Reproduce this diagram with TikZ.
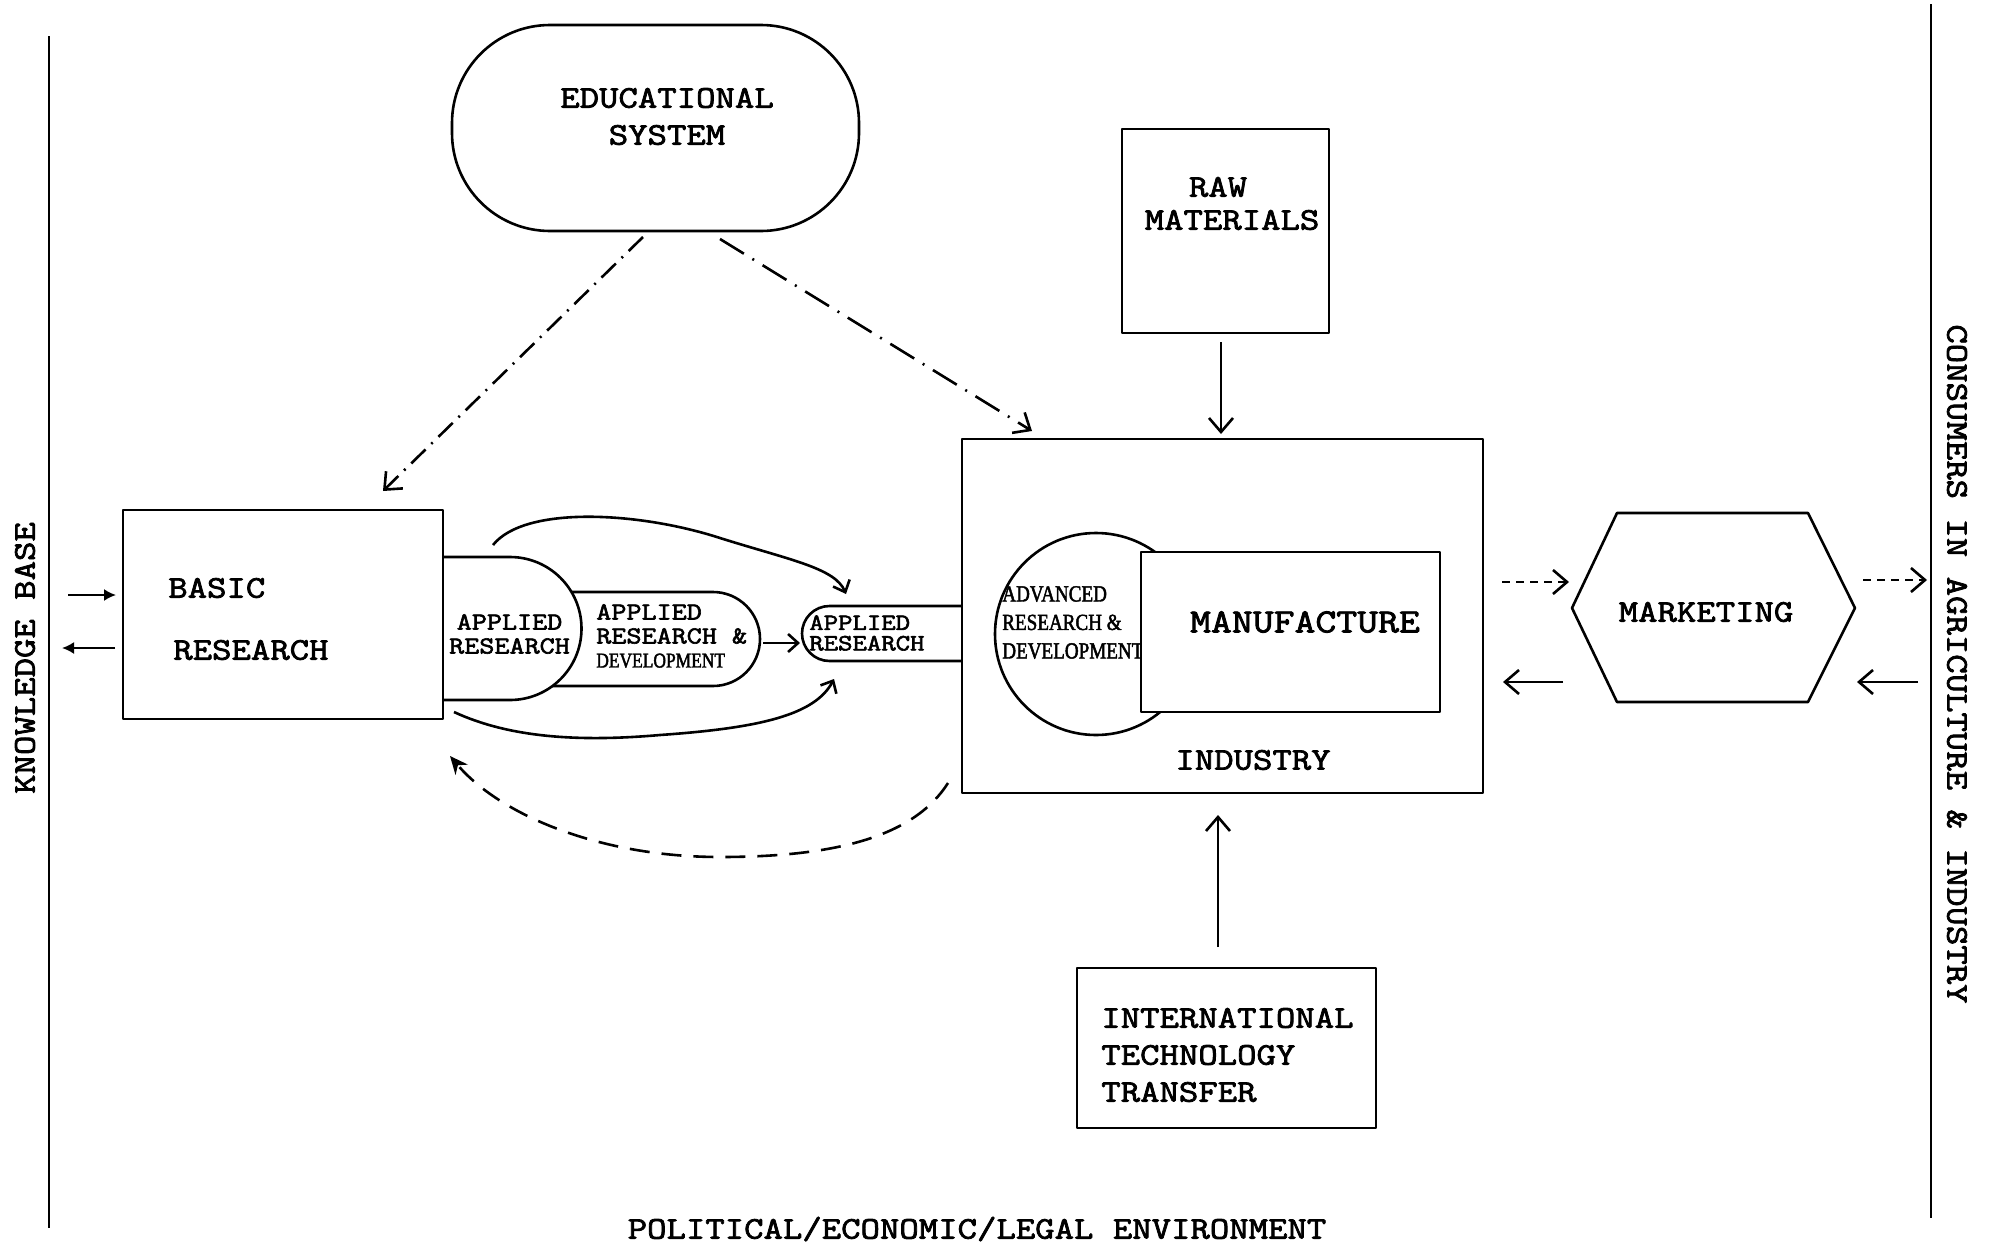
\documentclass[tikz,border=0pt]{standalone}
\usepackage{fontspec}
\newfontfamily\tw{Latin Modern Mono}[FakeStretch=1.2,FakeBold=2.5]
\newfontfamily\hs{Liberation Serif}[FakeStretch=0.83,FakeBold=2]
\usetikzlibrary{arrows.meta,calc}
\begin{document}
\begin{tikzpicture}[x=1pt,y=-1pt,line width=2.6pt,line join=round,
  big/.style={font=\tw\fontsize{31.4pt}{37pt}\selectfont,inner sep=0pt},
  small/.style={font=\tw\fontsize{24.4pt}{24pt}\selectfont,inner sep=0pt},
  hand/.style={font=\hs\fontsize{23pt}{28.5pt}\selectfont,inner sep=0pt},
  box/.style={draw,rectangle,inner sep=0pt},
  barb/.style={-{Straight Barb[length=14pt,width=24pt]}},
  sbarb/.style={-{Straight Barb[length=10pt,width=18pt]}},
  dashdotA/.style={dash pattern=on 20pt off 8pt on 2pt off 8pt},
  dashdotB/.style={dash pattern=on 28pt off 10pt on 2pt off 10pt},
  dots/.style={dash pattern=on 8pt off 6pt},
  longdash/.style={dash pattern=on 20pt off 12pt}
]
\useasboundingbox[fill=white] (0,0) rectangle (1995,1253);

% side lines
\coordinate (lt) at (49,36);
\coordinate (lb) at (49,1228);
\coordinate (rt) at (1931,4);
\coordinate (rb) at (1931,1218);
\draw (lt) -- (lb);
\draw (rt) -- (rb);
\node[big,rotate=90] (kb) at (25,658) {KNOWLEDGE BASE};
\node[big,rotate=-90] (cons) at (1957,664) {CONSUMERS IN AGRICULTURE \& INDUSTRY};
\node[big] (env) at (977,1229) {POLITICAL/ECONOMIC/LEGAL ENVIRONMENT};

% educational system
\node[draw,rounded corners=98pt,minimum width=407pt,minimum height=206pt,inner sep=0pt] (edu) at (655.5,128) {};
\node[big,align=center] (edutxt) at (667,116.5) {EDUCATIONAL\\SYSTEM};

% applied research shapes
\filldraw[fill=white] (540,592) -- (713,592) arc[start angle=-90,end angle=90,radius=47] -- (540,686);
\node[small,align=left,anchor=west] (ardtxt) at (595,636) {APPLIED\\RESEARCH \&\\{\hs\fontsize{21pt}{23pt}\selectfont DEVELOPMENT}};
\filldraw[fill=white] (443,557) -- (510,557) arc[start angle=-90,end angle=90,radius=71.5] -- (443,700);
\node[small,align=center] (ar1) at (509.5,634) {APPLIED\\RESEARCH};

% basic research
\node[box,minimum width=320pt,minimum height=209pt] (basic) at (283,614.5) {};
\node[big,anchor=west] (basic1) at (167,588) {BASIC};
\node[big,anchor=west] (basic2) at (172,650) {RESEARCH};

% industry
\node[box,minimum width=521pt,minimum height=354pt] (ind) at (1222.5,616) {};
\draw (962,606) -- (829.5,606) arc[start angle=-90,end angle=-270,radius=27.5] -- (962,661);
\node[small,font=\tw\fontsize{23.3pt}{20.5pt}\selectfont,align=left,anchor=west] (ar3) at (808,633) {APPLIED\\RESEARCH};
\node[draw,circle,minimum size=202pt,inner sep=0pt] (ardc) at (1096,634) {};
\node[hand,align=left,anchor=west] (ardctxt) at (1001,622.5) {ADVANCED\\RESEARCH \&\\DEVELOPMENT};
\node[box,fill=white,minimum width=299pt,minimum height=160pt] (manuf) at (1290.5,632) {};
\node[big,font=\tw\fontsize{33.8pt}{37pt}\selectfont] (manuftxt) at (1305,622) {MANUFACTURE};
\node[big] (indtxt) at (1253,760) {INDUSTRY};

% raw materials
\node[box,minimum width=207pt,minimum height=204pt] (raw) at (1225.5,231) {};
\node[big] (raw1) at (1218,187) {RAW};
\node[big] (raw2) at (1232,220) {MATERIALS};

% international technology transfer
\node[box,minimum width=299pt,minimum height=160pt] (itt) at (1226.5,1048) {};
\node[big,align=left,anchor=west] (itttxt) at (1100,1055) {INTERNATIONAL\\TECHNOLOGY\\TRANSFER};

% marketing
\coordinate (mL) at (1572,608);
\coordinate (mTL) at (1617,513);
\coordinate (mTR) at (1808,513);
\coordinate (mR) at (1855,608);
\coordinate (mBR) at (1808,702);
\coordinate (mBL) at (1617,702);
\draw (mL) -- (mTL) -- (mTR) -- (mR) -- (mBR) -- (mBL) -- cycle;
\node[big] (mkt) at (1706,612) {MARKETING};

% connectors
\coordinate (e1s) at (643,237);
\coordinate (e1t) at (383,491);
\draw[dashdotA,barb] (e1s) -- (e1t);
\coordinate (e2s) at (720,239);
\coordinate (e2t) at (1032,431);
\draw[dashdotB,barb] (e2s) -- (e2t);

\coordinate (r1s) at (1221,342);
\coordinate (r1t) at (1221,434);
\draw[barb] (r1s) -- (r1t);
\coordinate (t1s) at (1218,947);
\coordinate (t1t) at (1218,815);
\draw[barb] (t1s) -- (t1t);

\coordinate (a1s) at (763,643);
\coordinate (a1t) at (800,643);
\draw[sbarb] (a1s) -- (a1t);

\coordinate (c1s) at (493,545);
\coordinate (c1t) at (846,594);
\draw[sbarb] (c1s) .. controls (525,505) and (640,512) .. (720,538) .. controls (790,560) and (835,568) .. (c1t);
\coordinate (c2s) at (454,712);
\coordinate (c2t) at (834,679);
\draw[sbarb] (c2s) .. controls (510,738) and (580,742) .. (660,735) .. controls (760,728) and (815,715) .. (c2t);

\coordinate (d1s) at (948,783);
\coordinate (d1t) at (450,756);
\draw[longdash,-{Stealth[length=18pt,width=16pt]}] (d1s) .. controls (915,835) and (840,857) .. (720,857) .. controls (600,857) and (500,815) .. (d1t);

\coordinate (k1s) at (68,595);
\coordinate (k1t) at (116,595);
\draw[line width=2pt,-{Latex[length=12pt,width=12pt]}] (k1s) -- (k1t);
\coordinate (k2s) at (115,648);
\coordinate (k2t) at (62,648);
\draw[line width=2pt,-{Latex[length=12pt,width=12pt]}] (k2s) -- (k2t);

\coordinate (m1s) at (1502,582);
\coordinate (m1t) at (1569,582);
\draw[dots,barb] (m1s) -- (m1t);
\coordinate (m2s) at (1563,682);
\coordinate (m2t) at (1503,682);
\draw[barb] (m2s) -- (m2t);
\coordinate (m3s) at (1863,580);
\coordinate (m3t) at (1927,580);
\draw[dots,barb] (m3s) -- (m3t);
\coordinate (m4s) at (1918,682);
\coordinate (m4t) at (1857,682);
\draw[barb] (m4s) -- (m4t);
\end{tikzpicture}
\end{document}
